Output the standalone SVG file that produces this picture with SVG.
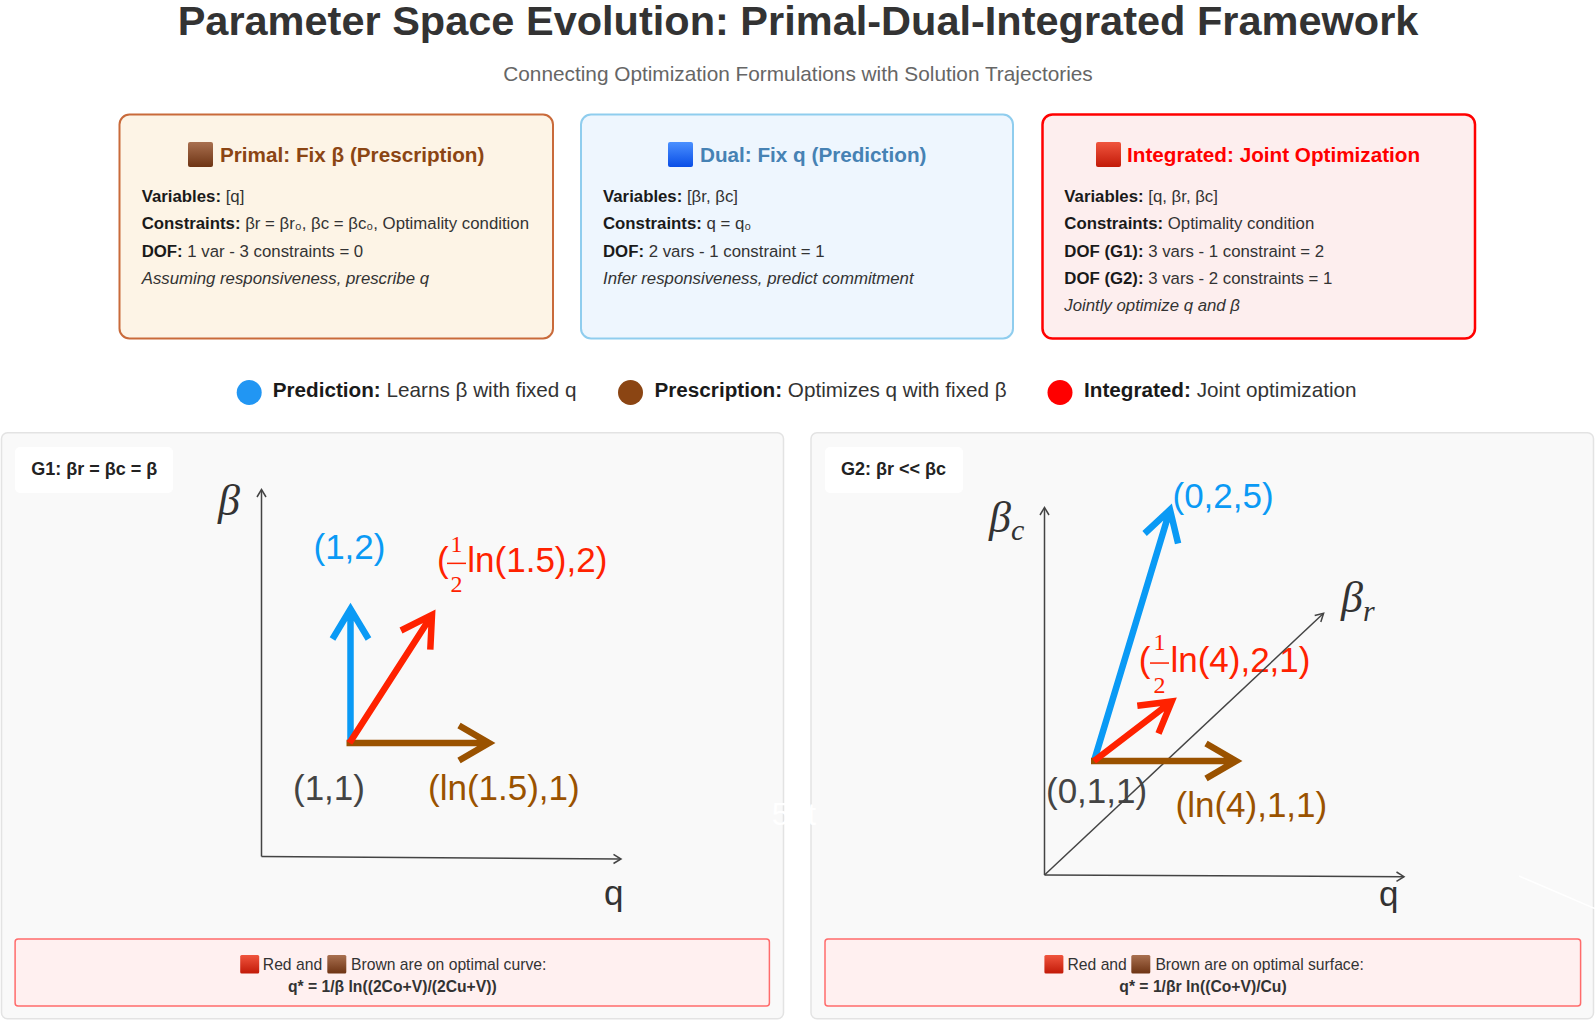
<svg xmlns="http://www.w3.org/2000/svg" width="1596" height="1021" viewBox="0 0 1596 1021">
<defs>
  <linearGradient id="gBrown" x1="0" y1="0" x2="0" y2="1"><stop offset="0" stop-color="#a97050"/><stop offset="1" stop-color="#6e3414"/></linearGradient>
  <linearGradient id="gBlue" x1="0" y1="0" x2="0" y2="1"><stop offset="0" stop-color="#4a90ff"/><stop offset="1" stop-color="#0a4ee6"/></linearGradient>
  <linearGradient id="gRed" x1="0" y1="0" x2="0" y2="1"><stop offset="0" stop-color="#f0553e"/><stop offset="1" stop-color="#c21a08"/></linearGradient>
</defs>
<style>
  text { font-family: "Liberation Sans", Arial, sans-serif; }
  .title { font-size: 41.5px; font-weight: bold; fill: #333; }
  .sub { font-size: 20.8px; fill: #666; }
  .card-h { font-size: 20.7px; font-weight: bold; }
  .body { font-size: 16.8px; fill: #333; }
  .b { font-weight: bold; fill: #1a1a1a; }
  .it { font-style: italic; }
  .legend { font-size: 20.7px; fill: #333; }
  .panel { fill: #f9f9f9; stroke: #e3e3e3; stroke-width: 1.5; }
  .glabel { fill: #ffffff; }
  .gtext { font-size: 18px; font-weight: bold; fill: #222; }
  .axis { fill: none; stroke: #444; stroke-width: 1.5; }
  .vec { fill: none; stroke-width: 6.5; stroke-linejoin: miter; stroke-linecap: butt; }
  .coord { font-size: 35px; }
  .frac { font-family: "Liberation Serif", "Times New Roman", serif; font-size: 24px; }
  .math { font-family: "Liberation Serif", "Times New Roman", serif; font-style: italic; fill: #333; }
  .note { fill: #fff0f0; stroke: #ff6b6b; stroke-width: 1.5; }
  .notet { font-size: 15.7px; fill: #333; }
  .cBlue { fill: #0a9af5; } .sBlue { stroke: #0a9af5; }
  .cRed { fill: #ff2200; } .sRed { stroke: #ff2200; }
  .cBrown { fill: #9a5200; } .sBrown { stroke: #9a5200; }
  .cDark { fill: #444; }
</style>

<rect width="1596" height="1021" fill="#ffffff"/>

<g id="title">
  <text class="title" x="798" y="35" text-anchor="middle">Parameter Space Evolution: Primal-Dual-Integrated Framework</text>
  <text class="sub" x="798" y="81" text-anchor="middle">Connecting Optimization Formulations with Solution Trajectories</text>
</g>

<g id="card-primal">
  <rect x="119.5" y="114.5" width="433.5" height="224" rx="10" fill="#fdf4e6" stroke="#c96a3a" stroke-width="2"/>
  <rect x="188" y="142" width="25" height="25" rx="2" fill="url(#gBrown)"/>
  <text class="card-h" x="220" y="162" fill="#8b4513">Primal: Fix β (Prescription)</text>
  <text class="body" x="141.7" y="201.5"><tspan class="b">Variables:</tspan> [q]</text>
  <text class="body" x="141.7" y="229"><tspan class="b">Constraints:</tspan> βr = βr₀, βc = βc₀, Optimality condition</text>
  <text class="body" x="141.7" y="256.5"><tspan class="b">DOF:</tspan> 1 var - 3 constraints = 0</text>
  <text class="body it" x="141.7" y="283.8">Assuming responsiveness, prescribe q</text>
</g>

<g id="card-dual">
  <rect x="581" y="114.5" width="432" height="224" rx="10" fill="#eef6fe" stroke="#8fcdee" stroke-width="2"/>
  <rect x="668" y="142" width="25" height="25" rx="2" fill="url(#gBlue)"/>
  <text class="card-h" x="700" y="162" fill="#4682b4">Dual: Fix q (Prediction)</text>
  <text class="body" x="603" y="201.5"><tspan class="b">Variables:</tspan> [βr, βc]</text>
  <text class="body" x="603" y="229"><tspan class="b">Constraints:</tspan> q = q₀</text>
  <text class="body" x="603" y="256.5"><tspan class="b">DOF:</tspan> 2 vars - 1 constraint = 1</text>
  <text class="body it" x="603" y="283.8">Infer responsiveness, predict commitment</text>
</g>

<g id="card-integrated">
  <rect x="1042.5" y="114.5" width="432.5" height="224" rx="10" fill="#fdeeee" stroke="#ff0000" stroke-width="2.5"/>
  <rect x="1096" y="142" width="25" height="25" rx="2" fill="url(#gRed)"/>
  <text class="card-h" x="1127" y="162" fill="#ff0000">Integrated: Joint Optimization</text>
  <text class="body" x="1064.3" y="201.5"><tspan class="b">Variables:</tspan> [q, βr, βc]</text>
  <text class="body" x="1064.3" y="229"><tspan class="b">Constraints:</tspan> Optimality condition</text>
  <text class="body" x="1064.3" y="256.5"><tspan class="b">DOF (G1):</tspan> 3 vars - 1 constraint = 2</text>
  <text class="body" x="1064.3" y="283.8"><tspan class="b">DOF (G2):</tspan> 3 vars - 2 constraints = 1</text>
  <text class="body it" x="1064.3" y="310.5">Jointly optimize q and β</text>
</g>

<g id="legend">
  <circle cx="249.2" cy="392.5" r="12.5" fill="#2196f3"/>
  <text class="legend" x="272.7" y="397.3"><tspan class="b">Prediction:</tspan> Learns β with fixed q</text>
  <circle cx="630.5" cy="392.5" r="12.5" fill="#8b4513"/>
  <text class="legend" x="654.5" y="397.3"><tspan class="b">Prescription:</tspan> Optimizes q with fixed β</text>
  <circle cx="1060" cy="392.5" r="12.5" fill="#ff0000"/>
  <text class="legend" x="1084" y="397.3"><tspan class="b">Integrated:</tspan> Joint optimization</text>
</g>

<g id="panel-g1">
  <rect class="panel" x="1.5" y="432.7" width="782" height="586" rx="6"/>
  <rect class="glabel" x="15" y="447" width="158" height="46" rx="5"/>
  <text class="gtext" x="31.2" y="475">G1: βr = βc = β</text>
  <text class="math" x="218" y="515" font-size="44">β</text>
  <text class="coord" x="604" y="905" fill="#333">q</text>
  <text class="coord cBlue" x="313.5" y="559.3">(1,2)</text>
  <g class="cRed">
    <text class="coord" x="437" y="571.7">(</text>
    <text class="frac" x="456.5" y="551.5" text-anchor="middle">1</text>
    <rect x="447" y="562.6" width="19" height="1.5"/>
    <text class="frac" x="456.5" y="592" text-anchor="middle">2</text>
    <text class="coord" x="467.3" y="571.7">ln(1.5),2)</text>
  </g>
  <text class="coord cDark" x="293" y="800">(1,1)</text>
  <text class="coord cBrown" x="428" y="800">(ln(1.5),1)</text>
  <g id="note-g1">
    <rect class="note" x="15.1" y="939" width="754.3" height="67" rx="3"/>
    <rect x="240.2" y="955" width="19" height="18.5" rx="1.5" fill="url(#gRed)"/>
    <text class="notet" x="262.8" y="970">Red and</text>
    <rect x="327.3" y="955" width="19" height="18.5" rx="1.5" fill="url(#gBrown)"/>
    <text class="notet" x="351" y="970">Brown are on optimal curve:</text>
    <text class="notet b" x="392.3" y="991.7" text-anchor="middle">q* = 1/β ln((2Co+V)/(2Cu+V))</text>
  </g>
</g>

<g id="panel-g2">
  <rect class="panel" x="811" y="432.7" width="782.5" height="586" rx="6"/>
  <rect class="glabel" x="825" y="447" width="138" height="46" rx="5"/>
  <text class="gtext" x="841" y="475">G2: βr &lt;&lt; βc</text>
  <text class="math" x="989" y="532" font-size="44">β<tspan font-size="30" dy="8">c</tspan></text>
  <text class="math" x="1341" y="612" font-size="44">β<tspan font-size="30" dy="9">r</tspan></text>
  <text class="coord" x="1379" y="906" fill="#333">q</text>
  <text class="coord cBlue" x="1172.5" y="508">(0,2,5)</text>
  <g class="cRed">
    <text class="coord" x="1138.8" y="671.7">(</text>
    <text class="frac" x="1159.5" y="650" text-anchor="middle">1</text>
    <rect x="1150" y="662.3" width="19" height="1.5"/>
    <text class="frac" x="1159.5" y="693" text-anchor="middle">2</text>
    <text class="coord" x="1170.4" y="671.7">ln(4),2,1)</text>
  </g>
  <text class="coord cDark" x="1046" y="803">(0,1,1)</text>
  <text class="coord cBrown" x="1175.5" y="816.7">(ln(4),1,1)</text>
  <g id="note-g2">
    <rect class="note" x="825" y="939" width="755.6" height="67" rx="3"/>
    <rect x="1044.4" y="955" width="19" height="18.5" rx="1.5" fill="url(#gRed)"/>
    <text class="notet" x="1067.5" y="970">Red and</text>
    <rect x="1131.3" y="955" width="19" height="18.5" rx="1.5" fill="url(#gBrown)"/>
    <text class="notet" x="1155.4" y="970">Brown are on optimal surface:</text>
    <text class="notet b" x="1203" y="991.7" text-anchor="middle">q* = 1/βr ln((Co+V)/Cu)</text>
  </g>
</g>

<g id="connectors">
  <g id="axes-g1" class="axis">
    <path d="M261.5,856.5 V490"/>
    <path d="M257,497 L261.5,489.5 L266,497"/>
    <path d="M261.5,856.5 L620,859"/>
    <path d="M613.5,854.3 L621,859 L613.5,863.5"/>
  </g>
  <g id="vectors-g1" class="vec">
    <path class="sBlue" d="M350.5,743 V609 M332.5,639 L350.5,609 L368.5,639"/>
    <path class="sBrown" d="M346.5,743 H489 M459,725.5 L489,743 L459,760.5"/>
    <path class="sRed" d="M349.5,743 L432,614.9 M401,630.5 L432,614.9 L430.3,649.6"/>
  </g>
  <g id="axes-g2" class="axis">
    <path d="M1044.5,875 V508"/>
    <path d="M1040,515 L1044.5,507.5 L1049,515"/>
    <path d="M1044.5,875 L1404,876.7"/>
    <path d="M1396.5,872 L1404,876.7 L1396.5,881.3"/>
    <path d="M1044.5,875 L1323.6,613.3"/>
    <path d="M1314.7,615.5 L1323.6,613.3 L1320.8,622"/>
  </g>
  <g id="vectors-g2" class="vec">
    <path class="sBlue" d="M1094,761 L1170,509.8 M1144.6,533.5 L1170,509.8 L1178.1,543.6"/>
    <path class="sBrown" d="M1091,761 H1236 M1206,743.5 L1236,761 L1206,778.5"/>
    <path class="sRed" d="M1094,761 L1171.7,701.5 M1137.3,705.8 L1171.7,701.5 L1158.5,733.6"/>
  </g>
</g>

<g id="faint-marks">
  <text x="771.7" y="825" font-size="32" fill="#ffffff">5pt</text>
  <path d="M1519,876 L1596,909" stroke="#ffffff" stroke-width="1.5" fill="none"/>
</g>
</svg>
